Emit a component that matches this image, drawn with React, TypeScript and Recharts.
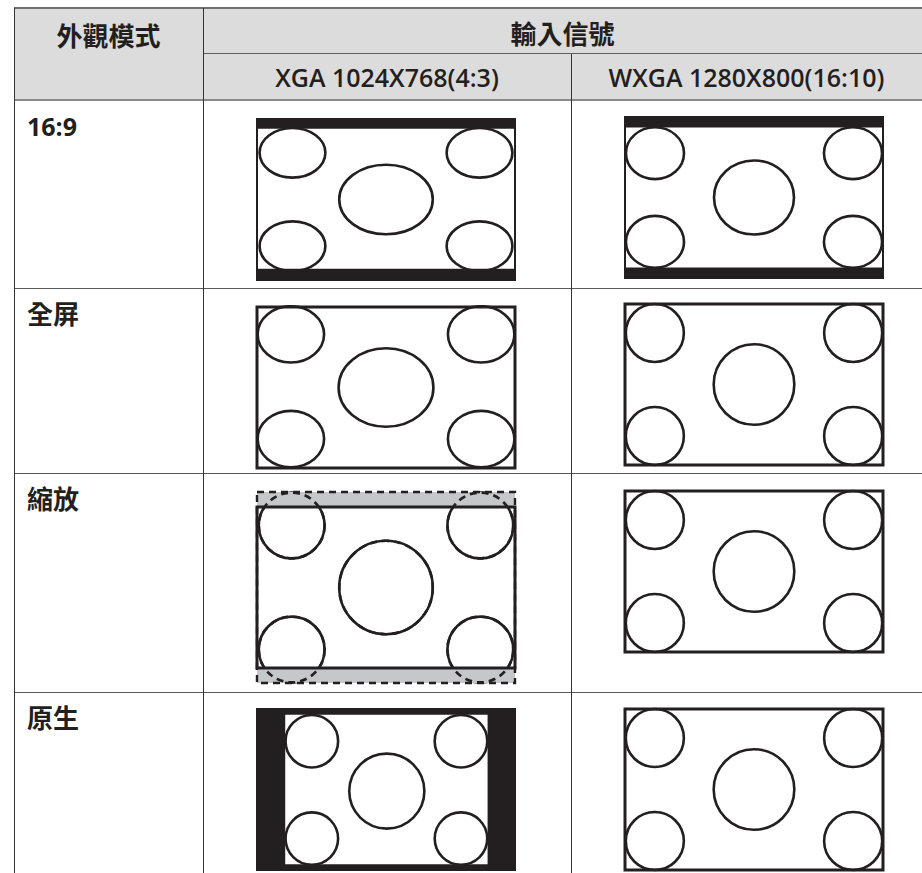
import { ScatterChart, XAxis, YAxis, ReferenceArea } from 'recharts';

const headerMode = '外觀模式';
const headerSignal = '輸入信號';
const modes = ['16:9', '全屏', '縮放', '原生'];
const signals = ['XGA 1024X768(4:3)', 'WXGA 1280X800(16:10)'];

// pictures are in panel units: 160 wide, 100 tall, y going down
// black bars: [x1, x2, y1, y2]
const xgaBars = [
  [[0, 160, 0, 6], [0, 160, 93, 100]],
  [],
  [],
  [[0, 17.5, 0, 100], [143, 160, 0, 100], [0, 160, 0, 3.5], [0, 160, 96.5, 100]],
];
const wxgaBars = [
  [[0, 160, 0, 6.5], [0, 160, 93.5, 100]],
  [],
  [],
  [],
];

// ellipses: [cx, cy, rx, ry]
const xgaEllipses = [
  [[22, 21, 20.4, 15.4], [138, 21, 20.4, 15.4], [80, 50, 29, 21.6], [22, 79, 20.4, 15.4], [138, 79, 20.4, 15.4]],
  [[21, 17, 20.6, 17.5], [139, 17, 20.6, 17.5], [80, 50, 29.4, 24.4], [21, 82, 20.6, 17.5], [139, 82, 20.6, 17.5]],
  [[21.5, 11.5, 20.4, 20.4], [138.5, 11.5, 20.4, 20.4], [80, 50, 29, 29], [21.5, 88.5, 20.4, 20.4], [138.5, 88.5, 20.4, 20.4]],
  [[34, 20, 16.3, 16.3], [126.5, 20, 16.3, 16.3], [80.5, 51, 23.3, 23.3], [34, 80.5, 16.3, 16.3], [126.5, 80.5, 16.3, 16.3]],
];
const wxgaFull = [[18.5, 18, 18, 18], [141.5, 18, 18, 18], [80, 50, 25, 25], [18.5, 82, 18, 18], [141.5, 82, 18, 18]];
const wxgaEllipses = [
  [[18.6, 22.5, 18, 16.1], [141.4, 22.5, 18, 16.1], [80, 50, 24.8, 23], [18.6, 77.5, 18, 16.1], [141.4, 77.5, 18, 16.1]],
  wxgaFull,
  wxgaFull,
  wxgaFull,
];

// cropped part of the zoomed 4:3 picture: [y1, y2]
const zoomCrop = [[-9.3, 0], [100, 109.3]];

const INK = '#231f20';
const BAND = '#c6c7c9';

// layout
const rowTops = [100, 288, 473, 692];
const picTops = [[119, 117], [307, 304], [507, 491], [709, 709]];
const picLefts = [257, 625];

const ellipseShape = (dashed: boolean) => (p: any) => (
  <ellipse
    cx={p.x + p.width / 2}
    cy={p.y + p.height / 2}
    rx={Math.abs(p.width) / 2}
    ry={Math.abs(p.height) / 2}
    fill="none"
    stroke={INK}
    strokeWidth={2.6}
    strokeDasharray={dashed ? '7 5' : undefined}
  />
);

const Screen = ({ bars, ellipses, crop }: any) => {
  const yMin = crop ? crop[0][0] : 0;
  const yMax = crop ? crop[1][1] : 100;
  const h = Math.round((yMax - yMin) * 1.61) + 4;
  return (
    <ScatterChart width={262} height={h} margin={{ top: 2, right: 2, bottom: 2, left: 2 }}>
      <XAxis type="number" dataKey="x" domain={[0, 160]} hide allowDataOverflow />
      <YAxis type="number" dataKey="y" domain={[yMin, yMax]} hide reversed allowDataOverflow />
      <ReferenceArea x1={0} x2={160} y1={0} y2={100} fill="#fff" fillOpacity={1} stroke="none" ifOverflow="visible" />
      {bars.map((b: number[], i: number) => (
        <ReferenceArea key={'b' + i} x1={b[0]} x2={b[1]} y1={b[2]} y2={b[3]} fill={INK} fillOpacity={1} stroke="none" ifOverflow="visible" />
      ))}
      {ellipses.map((e: number[], i: number) => (
        <ReferenceArea key={'e' + i} x1={e[0] - e[2]} x2={e[0] + e[2]} y1={e[1] - e[3]} y2={e[1] + e[3]} shape={ellipseShape(false)} ifOverflow="visible" />
      ))}
      {crop && crop.map((c: number[], i: number) => (
        <ReferenceArea key={'c' + i} x1={0} x2={160} y1={c[0]} y2={c[1]} fill={BAND} fillOpacity={1} stroke="none" ifOverflow="visible" />
      ))}
      {crop && ellipses.map((e: number[], i: number) => (
        <ReferenceArea key={'d' + i} x1={e[0] - e[2]} x2={e[0] + e[2]} y1={e[1] - e[3]} y2={e[1] + e[3]} shape={ellipseShape(true)} ifOverflow="visible" />
      ))}
      {crop && (
        <ReferenceArea x1={0} x2={160} y1={yMin} y2={yMax} fill="none" stroke={INK} strokeWidth={2.4} strokeDasharray="7 5" ifOverflow="visible" />
      )}
      <ReferenceArea x1={0} x2={160} y1={0} y2={100} fill="none" stroke={INK} strokeWidth={bars.length ? 2 : 3} ifOverflow="visible" />
    </ScatterChart>
  );
};

const line = (left: number, top: number, width: number, height: number, color: string) => ({
  position: 'absolute' as const, left, top, width, height, background: color,
});

export default function App() {
  const font = '"Open Sans", "Noto Sans CJK TC", sans-serif';
  const cjk = '"Noto Sans CJK TC", "Open Sans", sans-serif';
  return (
    <div style={{ position: 'relative', width: 922, height: 873, background: '#fff', overflow: 'hidden', color: INK }}>
      <style>{'html,body{margin:0;overflow:hidden;background:#fff}'}</style>

      {/* header background */}
      <div style={line(14, 8, 908, 92, '#dcdcdc')} />

      {/* header texts */}
      <div style={{ position: 'absolute', left: 14, width: 189, top: 19, lineHeight: '32px', textAlign: 'center', fontFamily: cjk, fontWeight: 700, fontSize: 26 }}>{headerMode}</div>
      <div style={{ position: 'absolute', left: 203, width: 719, top: 17, lineHeight: '32px', textAlign: 'center', fontFamily: cjk, fontWeight: 700, fontSize: 26 }}>{headerSignal}</div>
      {signals.map((s, i) => (
        <div key={s} style={{ position: 'absolute', left: i === 0 ? 203 : 571, width: i === 0 ? 368 : 351, top: 61, lineHeight: '32px', textAlign: 'center', fontFamily: font, fontWeight: 600, fontSize: 25 }}>{s}</div>
      ))}

      {/* mode labels */}
      {modes.map((m, i) => (
        <div key={m} style={{ position: 'absolute', left: 27, top: rowTops[i] + 10, lineHeight: '32px', fontFamily: font, fontWeight: 700, fontSize: i === 0 ? 25 : 26 }}>{m}</div>
      ))}

      {/* pictures */}
      {modes.map((m, r) => (
        <div key={'p' + m}>
          <div style={{ position: 'absolute', left: picLefts[0] - 2, top: picTops[r][0] - 2 + (r === 2 ? Math.round(zoomCrop[0][0] * 1.61) : 0) }}>
            <Screen bars={xgaBars[r]} ellipses={xgaEllipses[r]} crop={r === 2 ? zoomCrop : null} />
          </div>
          <div style={{ position: 'absolute', left: picLefts[1] - 2, top: picTops[r][1] - 2 }}>
            <Screen bars={wxgaBars[r]} ellipses={wxgaEllipses[r]} crop={null} />
          </div>
        </div>
      ))}

      {/* table rules */}
      <div style={line(14, 7, 908, 2, '#707070')} />
      <div style={line(203, 53, 719, 1, '#606060')} />
      <div style={line(14, 99, 908, 2, '#8a8a8a')} />
      {rowTops.slice(1).map((t) => (
        <div key={'r' + t} style={line(14, t, 908, 1, '#5a5a5a')} />
      ))}
      <div style={line(14, 8, 1, 865, '#333')} />
      <div style={line(203, 8, 1, 865, '#333')} />
      <div style={line(571, 54, 1, 819, '#333')} />
    </div>
  );
}
